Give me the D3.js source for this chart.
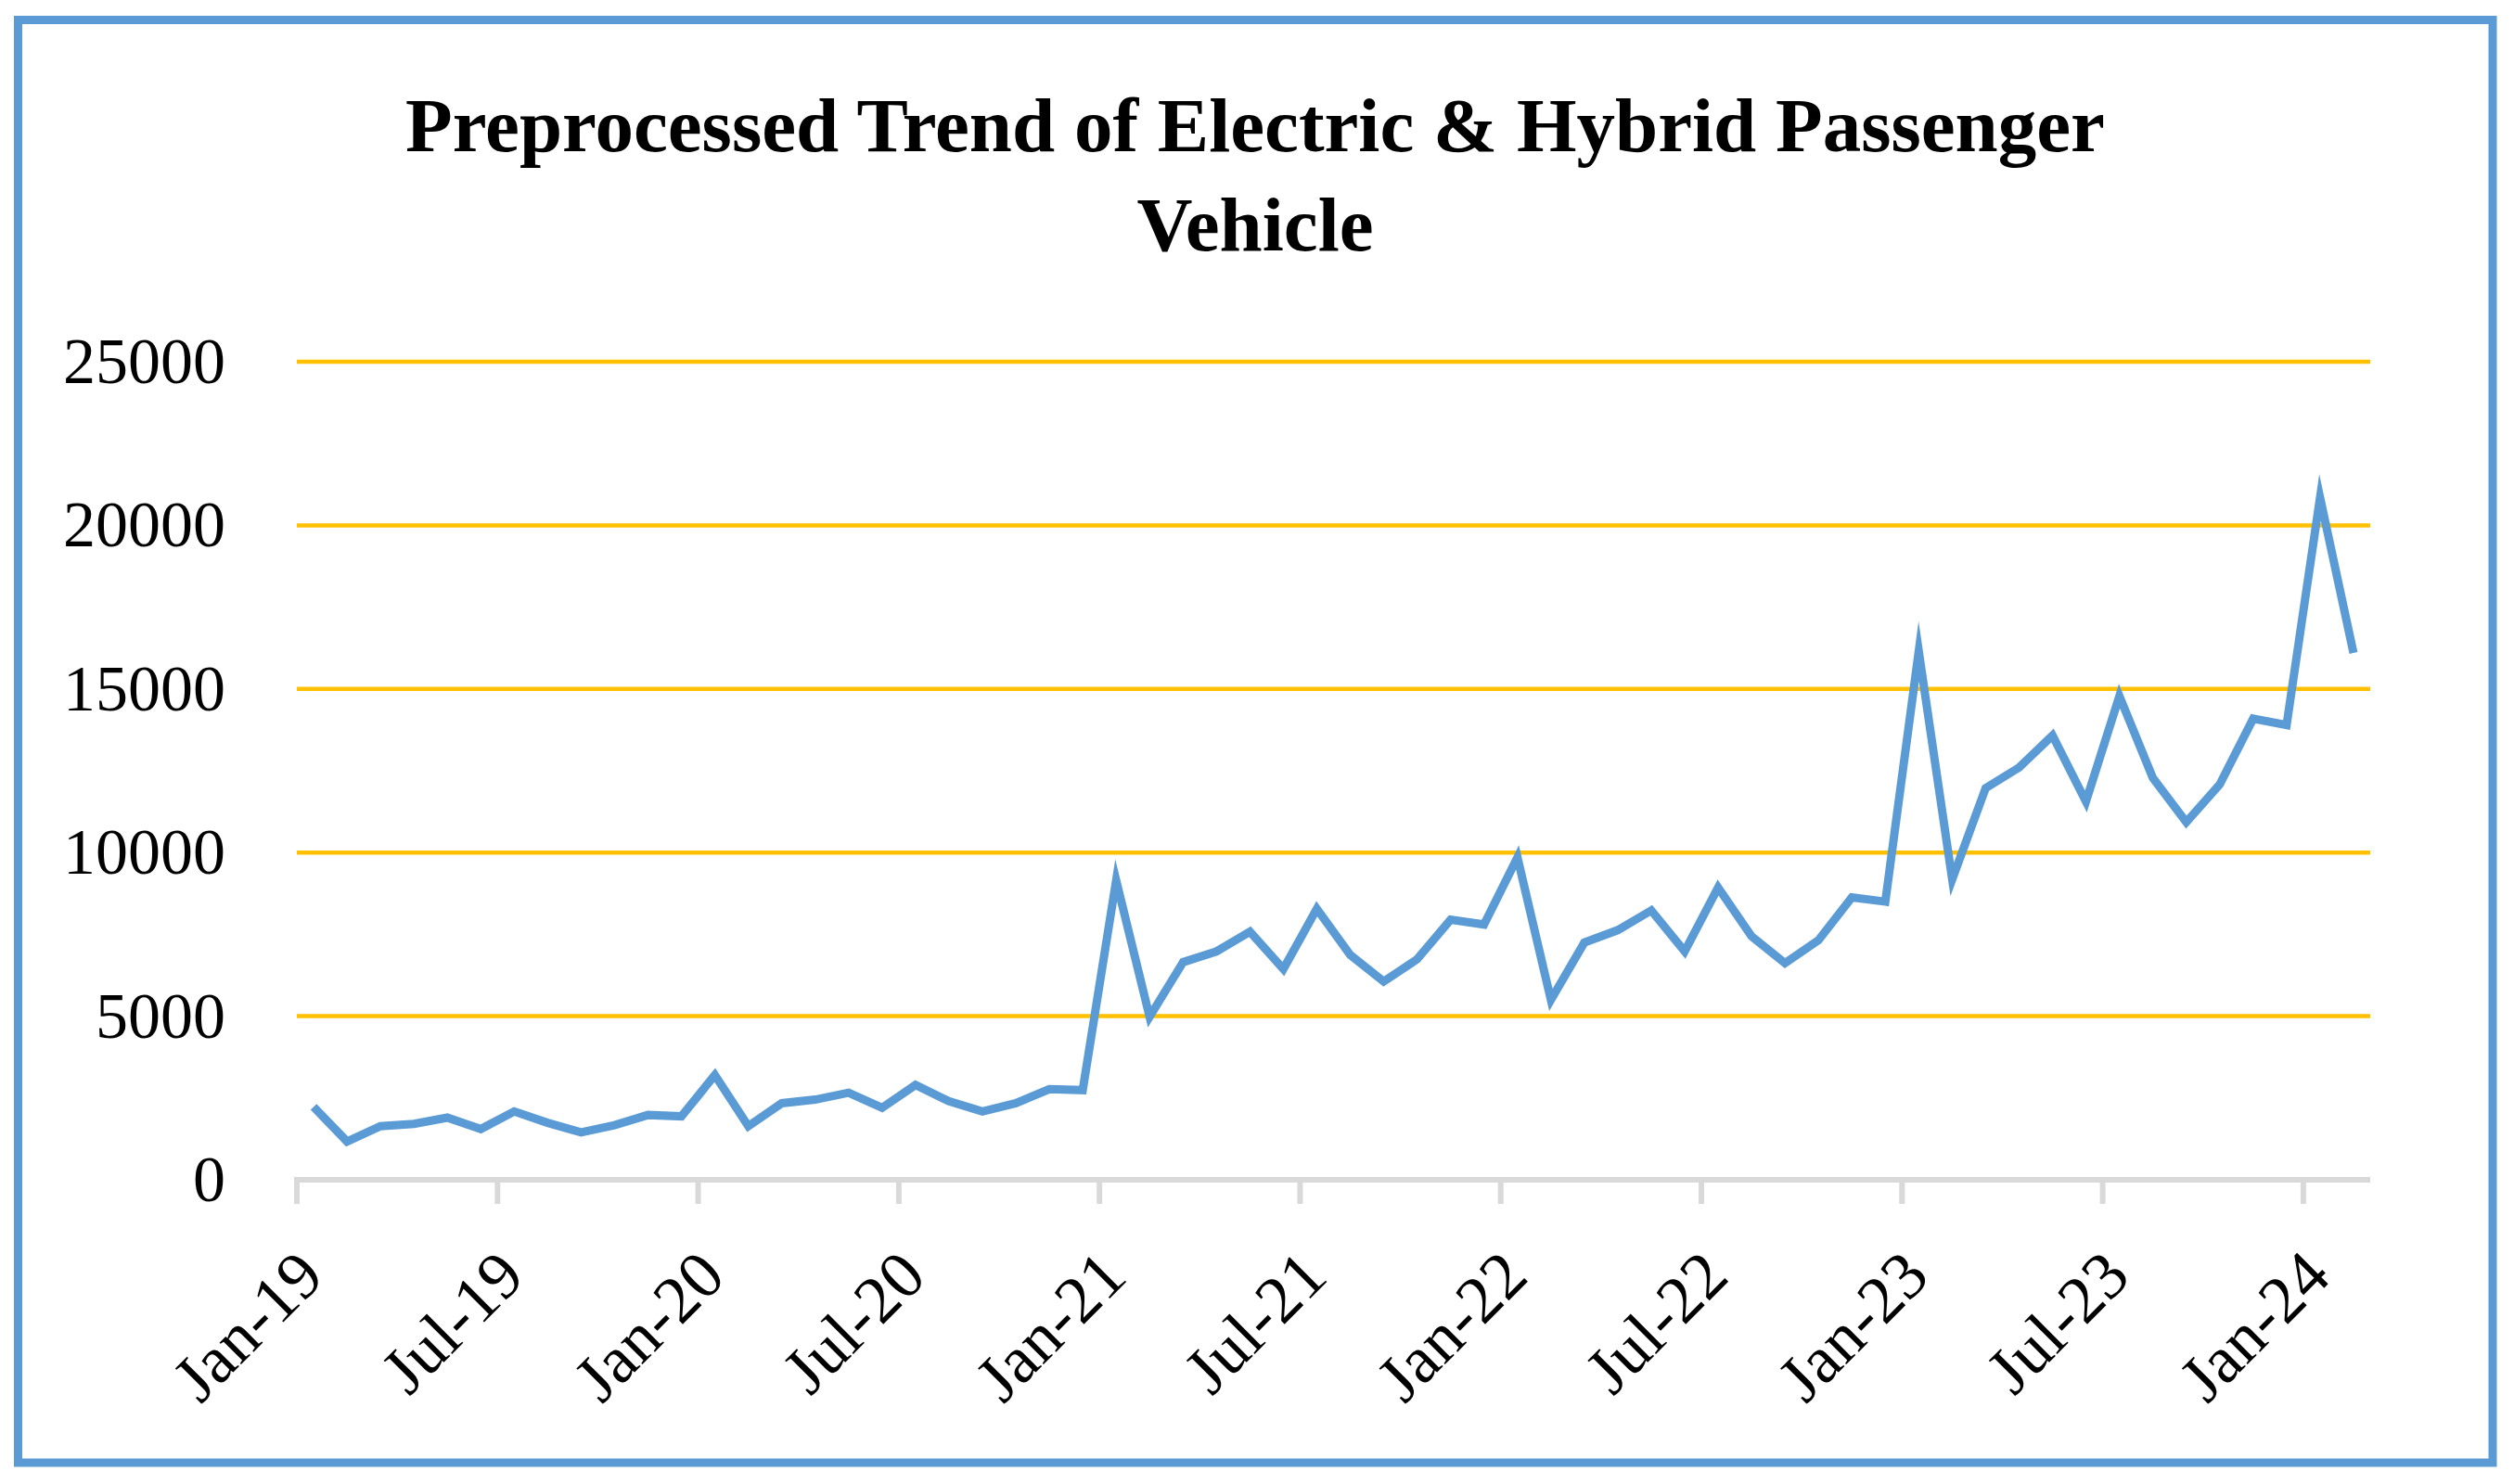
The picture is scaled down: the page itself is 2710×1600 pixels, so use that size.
<!DOCTYPE html>
<html>
<head>
<meta charset="utf-8">
<script src="https://cdn.jsdelivr.net/npm/d3@7"></script>
<style>
  body { margin: 0; background: #fff; }
  text { font-family: "Palatino Linotype", "Book Antiqua", Palatino, "Liberation Serif", serif; }
</style>
</head>
<body>
<svg id="chart" width="2710" height="1600"></svg>
<script>
const months = [
  "Jan-19","Feb-19","Mar-19","Apr-19","May-19","Jun-19","Jul-19","Aug-19","Sep-19","Oct-19","Nov-19","Dec-19",
  "Jan-20","Feb-20","Mar-20","Apr-20","May-20","Jun-20","Jul-20","Aug-20","Sep-20","Oct-20","Nov-20","Dec-20",
  "Jan-21","Feb-21","Mar-21","Apr-21","May-21","Jun-21","Jul-21","Aug-21","Sep-21","Oct-21","Nov-21","Dec-21",
  "Jan-22","Feb-22","Mar-22","Apr-22","May-22","Jun-22","Jul-22","Aug-22","Sep-22","Oct-22","Nov-22","Dec-22",
  "Jan-23","Feb-23","Mar-23","Apr-23","May-23","Jun-23","Jul-23","Aug-23","Sep-23","Oct-23","Nov-23","Dec-23",
  "Jan-24","Feb-24"
];

// sales per month
const sales = [
  2230, 1170, 1640, 1710, 1900, 1550, 2090, 1740, 1450, 1670, 1980, 1940,
  3200, 1640, 2340, 2450, 2660, 2200, 2900, 2400, 2090, 2340, 2770, 2740,
  9150, 4980, 6650, 6980, 7580, 6440, 8280, 6870, 6060, 6740, 7950, 7800,
  9850, 5500, 7250, 7630, 8230, 6980, 8930, 7440, 6620, 7320, 8630, 8500,
  16150, 9180, 11970, 12600, 13580, 11560, 14780, 12280, 10930, 12080, 14090, 13900,
  20850, 16100
];

const yTicks = [0, 5000, 10000, 15000, 20000, 25000];
const xTickLabels = ["Jan-19","Jul-19","Jan-20","Jul-20","Jan-21","Jul-21","Jan-22","Jul-22","Jan-23","Jul-23","Jan-24"];
const titleLines = ["Preprocessed Trend of Electric & Hybrid Passenger", "Vehicle"];

const svg = d3.select("#chart");
const W = 2710, H = 1600;
const plot = { left: 320, right: 2555, top: 390, bottom: 1272 };

svg.append("rect").attr("width", W).attr("height", H).attr("fill", "#fff");

// outer border
svg.append("rect")
  .attr("x", 19.5).attr("y", 21.5)
  .attr("width", 2687 - 19.5).attr("height", 1577 - 21.5)
  .attr("fill", "none")
  .attr("stroke", "#5B9BD5")
  .attr("stroke-width", 9);

// title
svg.append("text")
  .attr("text-anchor", "middle")
  .attr("font-weight", "bold")
  .attr("font-size", 83)
  .attr("fill", "#000")
  .selectAll("tspan")
  .data(titleLines)
  .join("tspan")
  .attr("x", 1353)
  .attr("y", (d, i) => 163 + i * 107)
  .text(d => d);

const x = d3.scaleBand()
  .domain(months)
  .range([plot.left, plot.right])
  .paddingInner(0).paddingOuter(0);

const y = d3.scaleLinear()
  .domain([0, 25000])
  .range([plot.bottom, plot.top]);

// gridlines
svg.append("g")
  .selectAll("line")
  .data(yTicks.filter(d => d > 0))
  .join("line")
  .attr("x1", plot.left).attr("x2", plot.right)
  .attr("y1", d => y(d)).attr("y2", d => y(d))
  .attr("stroke", "#FFC000")
  .attr("stroke-width", 4.5);

// y axis labels
const yAxis = d3.axisLeft(y).tickValues(yTicks).tickSize(0).tickPadding(0).tickFormat(d3.format("d"));
const gy = svg.append("g").attr("transform", `translate(243,0)`).call(yAxis);
gy.select(".domain").remove();
gy.selectAll("text")
  .attr("font-size", 70)
  .attr("font-family", null)
  .attr("fill", "#000");

// x axis line + ticks
const gx = svg.append("g");
gx.append("line")
  .attr("x1", plot.left - 3).attr("x2", plot.right)
  .attr("y1", plot.bottom).attr("y2", plot.bottom)
  .attr("stroke", "#D9D9D9").attr("stroke-width", 6);

gx.selectAll("line.tick")
  .data(xTickLabels)
  .join("line")
  .attr("class", "tick")
  .attr("x1", d => x(d)).attr("x2", d => x(d))
  .attr("y1", plot.bottom).attr("y2", plot.bottom + 26)
  .attr("stroke", "#D9D9D9").attr("stroke-width", 6);

// rotated labels, anchored at the end of their baseline
gx.selectAll("text")
  .data(xTickLabels)
  .join("text")
  .attr("font-size", 72)
  .attr("fill", "#000")
  .attr("text-anchor", "end")
  .attr("transform", d => `translate(${x(d) + 32},${plot.bottom + 107}) rotate(-45)`)
  .text(d => d);

// series line
const line = d3.line()
  .x((d, i) => x(months[i]) + x.bandwidth() / 2)
  .y(d => y(d));

svg.append("path")
  .datum(sales)
  .attr("d", line)
  .attr("fill", "none")
  .attr("stroke", "#5B9BD5")
  .attr("stroke-width", 9)
  .attr("stroke-linejoin", "miter")
  .attr("stroke-miterlimit", 10);
</script>
</body>
</html>
